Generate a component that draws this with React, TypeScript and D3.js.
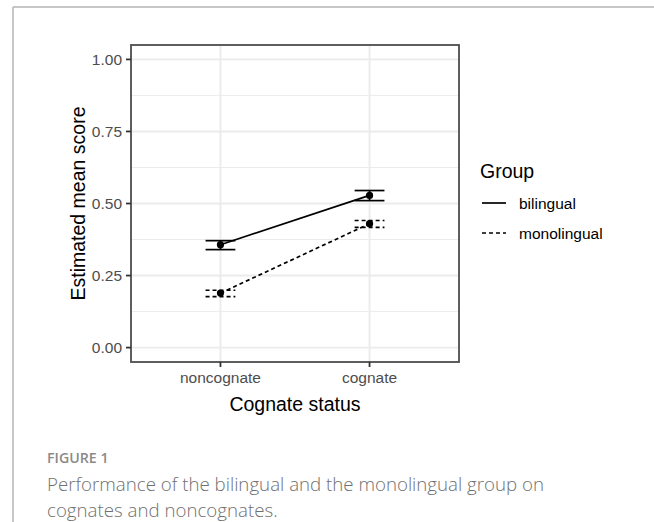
import React from "react";
import * as d3 from "d3";

const categories = ["noncognate", "cognate"];
const groups = ["bilingual", "monolingual"];
const means: Record<string, number[]> = {
  bilingual: [0.357, 0.528],
  monolingual: [0.189, 0.43],
};
const lower: Record<string, number[]> = {
  bilingual: [0.34, 0.51],
  monolingual: [0.177, 0.417],
};
const upper: Record<string, number[]> = {
  bilingual: [0.371, 0.545],
  monolingual: [0.199, 0.441],
};
const yTicks = [0, 0.25, 0.5, 0.75, 1];
const yMinor = [0.125, 0.375, 0.625, 0.875];
const dashes: Record<string, string> = { bilingual: "none", monolingual: "4,3" };

const W = 654;
const H = 522;
const panel = { left: 131, right: 459, top: 45, bottom: 362 };

export default function App() {
  const y = d3.scaleLinear().domain([-0.05, 1.05]).range([panel.bottom, panel.top]);
  const x = d3
    .scalePoint<string>()
    .domain(categories)
    .range([panel.left, panel.right])
    .padding(0.6);
  const step = x.step();
  const capHalf = step * 0.1;
  const line = d3
    .line<number>()
    .x((_, i) => x(categories[i]) as number)
    .y((d) => y(d));
  const tickFont = "'Liberation Sans', Arial, sans-serif";

  return (
    <svg
      width={W}
      height={H}
      style={{ position: "absolute", left: 0, top: 0, background: "#fff" }}
    >
      <rect x={0} y={0} width={W} height={H} fill="#fff" />
      {/* outer frame */}
      <line x1={13} y1={7} x2={W} y2={7} stroke="#b5b5b5" strokeWidth={1.5} />
      <line x1={13} y1={7} x2={13} y2={H} stroke="#b5b5b5" strokeWidth={1.5} />

      {/* grid */}
      {yMinor.map((t) => (
        <line key={"mn" + t} x1={panel.left} x2={panel.right} y1={y(t)} y2={y(t)} stroke="#ebebeb" strokeWidth={1} />
      ))}
      {yTicks.map((t) => (
        <line key={"mj" + t} x1={panel.left} x2={panel.right} y1={y(t)} y2={y(t)} stroke="#ebebeb" strokeWidth={1.9} />
      ))}
      {categories.map((c) => (
        <line key={"vx" + c} x1={x(c)} x2={x(c)} y1={panel.top} y2={panel.bottom} stroke="#ebebeb" strokeWidth={1.9} />
      ))}

      {/* series */}
      {groups.map((g) => (
        <g key={g}>
          <path d={line(means[g]) || ""} fill="none" stroke="#000" strokeWidth={1.7} strokeDasharray={dashes[g]} />
          {categories.map((c, i) => {
            const cx = x(c) as number;
            return (
              <g key={c}>
                <line x1={cx - capHalf} x2={cx + capHalf} y1={y(upper[g][i])} y2={y(upper[g][i])} stroke="#000" strokeWidth={1.7} strokeDasharray={dashes[g]} />
                <line x1={cx - capHalf} x2={cx + capHalf} y1={y(lower[g][i])} y2={y(lower[g][i])} stroke="#000" strokeWidth={1.7} strokeDasharray={dashes[g]} />
                <line x1={cx} x2={cx} y1={y(upper[g][i])} y2={y(lower[g][i])} stroke="#000" strokeWidth={1.7} strokeDasharray={dashes[g]} />
                <circle cx={cx} cy={y(means[g][i])} r={3.6} fill="#000" />
              </g>
            );
          })}
        </g>
      ))}

      {/* panel border */}
      <rect
        x={panel.left}
        y={panel.top}
        width={panel.right - panel.left}
        height={panel.bottom - panel.top}
        fill="none"
        stroke="#4d4d4d"
        strokeWidth={1.8}
      />

      {/* y axis */}
      {yTicks.map((t) => (
        <g key={"yt" + t}>
          <line x1={panel.left - 5} x2={panel.left} y1={y(t)} y2={y(t)} stroke="#333" strokeWidth={1.8} />
          <text x={panel.left - 9} y={y(t)} dy="0.36em" textAnchor="end" fontFamily={tickFont} fontSize={15.5} fill="#4d4d4d">
            {d3.format(".2f")(t)}
          </text>
        </g>
      ))}
      {/* x axis */}
      {categories.map((c) => (
        <g key={"xt" + c}>
          <line x1={x(c)} x2={x(c)} y1={panel.bottom} y2={panel.bottom + 5} stroke="#333" strokeWidth={1.8} />
          <text x={x(c)} y={panel.bottom + 21} textAnchor="middle" fontFamily={tickFont} fontSize={15.5} fill="#4d4d4d">
            {c}
          </text>
        </g>
      ))}

      <text
        x={(panel.left + panel.right) / 2}
        y={411}
        textAnchor="middle"
        fontFamily={tickFont}
        fontSize={19.5}
        fill="#000"
      >
        Cognate status
      </text>
      <text
        transform={`translate(${78},${(panel.top + panel.bottom) / 2}) rotate(-90)`}
        textAnchor="middle"
        dy="0.36em"
        fontFamily={tickFont}
        fontSize={19.5}
        fill="#000"
      >
        Estimated mean score
      </text>

      {/* legend */}
      <text x={480} y={178} fontFamily={tickFont} fontSize={19.5} fill="#000">
        Group
      </text>
      {groups.map((g, i) => {
        const ly = 203 + i * 30;
        return (
          <g key={"lg" + g}>
            <line x1={482} x2={506} y1={ly} y2={ly} stroke="#000" strokeWidth={1.7} strokeDasharray={dashes[g]} />
            <text x={519} y={ly} dy="0.36em" fontFamily={tickFont} fontSize={15.5} fill="#000">
              {g}
            </text>
          </g>
        );
      })}

      {/* caption */}
      <text x={47} y={463} fontFamily="'Open Sans', sans-serif" fontSize={14.2} fill="#8a8a8a" fontWeight={600}>
        FIGURE 1
      </text>
      <text x={47} y={491} fontFamily="'Open Sans', sans-serif" fontSize={18.7} fill="#707070" fontWeight={300}>
        Performance of the bilingual and the monolingual group on
      </text>
      <text x={47} y={517} fontFamily="'Open Sans', sans-serif" fontSize={18.7} fill="#707070" fontWeight={300}>
        cognates and noncognates.
      </text>
    </svg>
  );
}
